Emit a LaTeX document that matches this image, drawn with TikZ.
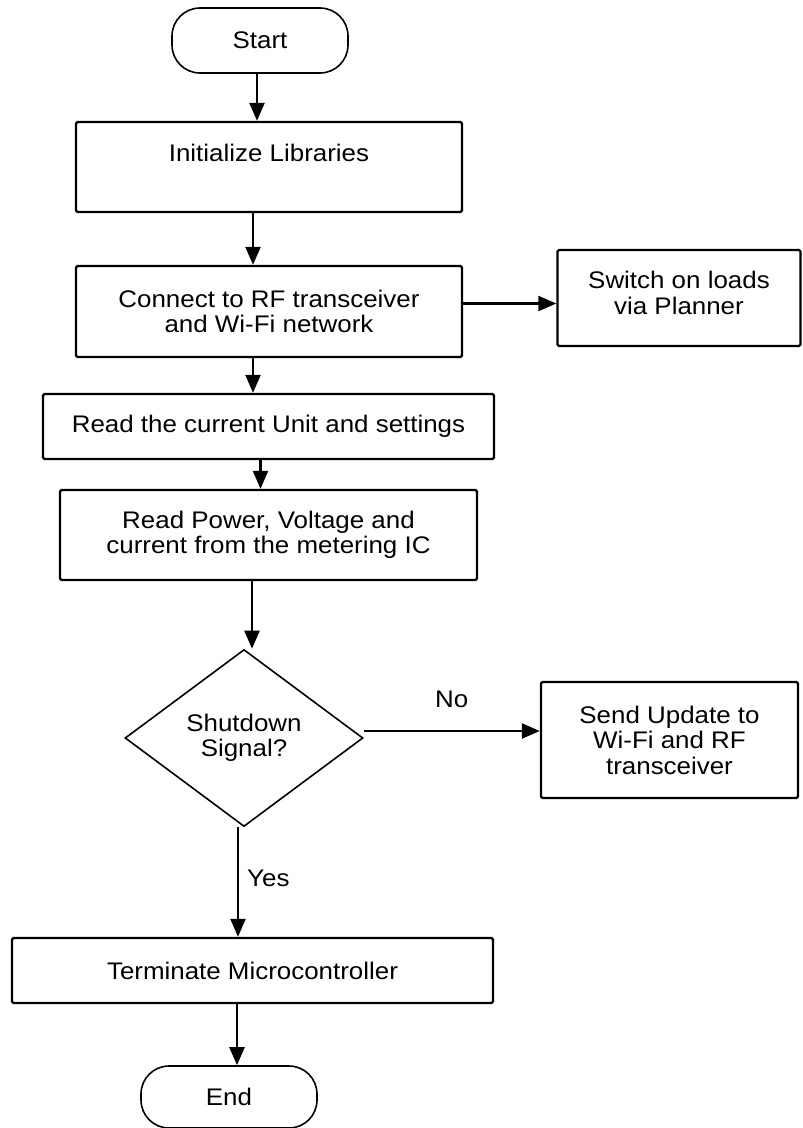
\documentclass[tikz,border=0pt]{standalone}
\usepackage{fontspec}
\setmainfont{Liberation Sans}[FakeStretch=1.08]
\usetikzlibrary{shapes.geometric,arrows.meta}
\begin{document}
\begin{tikzpicture}[x=1pt,y=-1pt,
  every node/.style={font=\fontsize{24}{25.5}\selectfont, align=center, inner sep=2pt},
  procbox/.style={draw, line width=2.4pt, rectangle, rounded corners=1.5pt},
  termbox/.style={draw, line width=1.6pt, rectangle, rounded corners=28pt, minimum width=176pt},
  decision/.style={draw, line width=1.6pt, diamond, inner sep=0pt, minimum width=238pt, minimum height=177pt},
  arr/.style={line width=2.4pt, -{Triangle[length=18pt,width=15pt]}},
  lbl/.style={font=\fontsize{24}{25.5}\selectfont}]
\useasboundingbox (0,0) rectangle (803,1128);
\fill[white] (0,0) rectangle (803,1128);

\node[termbox, minimum height=65pt] (start) at (260,40.5) {Start};
\node[procbox, minimum width=386pt, minimum height=90pt, text height=17pt, text depth=28pt] (init) at (269,167) {Initialize Libraries};
\node[procbox, minimum width=386pt, minimum height=91pt] (conn) at (269,311.5) {Connect to RF transceiver\\and Wi-Fi network};
\node[procbox, minimum width=243pt, minimum height=96pt, text depth=10pt] (switch) at (679,298) {Switch on loads\\via Planner};
\node[procbox, minimum width=451pt, minimum height=65pt] (unit) at (268.5,426.5) {Read the current Unit and settings};
\node[procbox, minimum width=417pt, minimum height=90pt] (power) at (268.5,535) {Read Power, Voltage and\\current from the metering IC};
\node[decision] (dec) at (244,738) {Shutdown\\Signal?};
\node[procbox, minimum width=257pt, minimum height=116pt] (send) at (669.5,740) {Send Update to\\Wi-Fi and RF\\transceiver};
\node[procbox, minimum width=481pt, minimum height=65pt] (termin) at (252.5,970.5) {Terminate Microcontroller};
\node[termbox, minimum height=62pt] (end) at (229,1097) {End};

\draw[arr] ([xshift=-3pt]start.south) -- ([xshift=-3pt]start.south |- init.north);
\draw[arr] ([xshift=-16pt]init.south) -- ([xshift=-16pt]init.south |- conn.north);
\draw[arr] ([yshift=8pt]conn.east) -- ([yshift=8pt]conn.east -| switch.west);
\draw[arr] ([xshift=-16pt]conn.south) -- ([xshift=-16pt]conn.south |- unit.north);
\draw[arr] ([xshift=-8pt]unit.south) -- ([xshift=-8pt]unit.south |- power.north);
\draw[arr] ([xshift=8pt]dec.north |- power.south) -- ([xshift=8pt]dec.north);
\draw[arr] ([yshift=7pt]dec.east) -- ([yshift=7pt]dec.east -| send.west) node[lbl, pos=0.5, above=20pt] {No};
\draw[arr] ([xshift=-6pt]dec.south) -- ([xshift=-6pt]dec.south |- termin.north) node[lbl, pos=0.47, right=6pt] {Yes};
\draw[arr] ([xshift=8pt]end.north |- termin.south) -- ([xshift=8pt]end.north);
\end{tikzpicture}
\end{document}
